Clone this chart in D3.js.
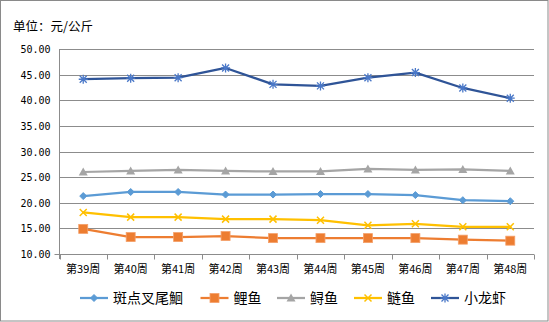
<!DOCTYPE html>
<html>
<head>
<meta charset="utf-8">
<script src="https://cdn.jsdelivr.net/npm/d3@7"></script>
<style>
  html, body { margin: 0; padding: 0; background: #fff; }
  svg { display: block; }
</style>
</head>
<body>
<svg id="chart" width="549" height="322"></svg>
<script>
// Weekly prices, yuan per kilogram
const weeks = ["第39周", "第40周", "第41周", "第42周", "第43周", "第44周", "第45周", "第46周", "第47周", "第48周"];
const channelCatfish = [21.3, 22.1, 22.1, 21.6, 21.6, 21.7, 21.7, 21.5, 20.5, 20.3];
const carp           = [14.9, 13.3, 13.3, 13.5, 13.1, 13.1, 13.1, 13.1, 12.8, 12.6];
const sturgeon       = [26.0, 26.2, 26.4, 26.2, 26.1, 26.1, 26.6, 26.4, 26.5, 26.2];
const silverCarp     = [18.1, 17.2, 17.2, 16.8, 16.8, 16.6, 15.6, 15.9, 15.3, 15.3];
const crayfish       = [44.1, 44.3, 44.4, 46.3, 43.1, 42.8, 44.4, 45.4, 42.4, 40.4];
const yTicks = [10, 15, 20, 25, 30, 35, 40, 45, 50];
const unitLabel = "单位：元/公斤";

const series = [
  { name: "斑点叉尾鮰", values: channelCatfish, color: "#5B9BD5", marker: "diamond" },
  { name: "鲤鱼", values: carp, color: "#ED7D31", marker: "square" },
  { name: "鲟鱼", values: sturgeon, color: "#A5A5A5", marker: "triangle" },
  { name: "鲢鱼", values: silverCarp, color: "#FFC000", marker: "x" },
  { name: "小龙虾", values: crayfish, color: "#2F5497", markerColor: "#4A78C8", marker: "star" }
];

const svg = d3.select("#chart");
const W = 549, H = 322;
const plot = { left: 59.5, right: 534, top: 49, bottom: 254 };
const cjk = "'Noto Sans CJK SC', 'Noto Sans', sans-serif";

// Outer frame
svg.append("rect")
  .attr("x", 0.5).attr("y", 0.5)
  .attr("width", W - 1.5).attr("height", H - 1.5)
  .attr("fill", "#fff").attr("stroke", "#8a8a8a").attr("stroke-width", 1);

const x = d3.scaleBand().domain(weeks).range([plot.left, plot.right]);
const y = d3.scaleLinear().domain([10, 50]).range([plot.bottom, plot.top]);
const cx = d => x(d) + x.bandwidth() / 2;

// Horizontal gridlines
svg.append("g").selectAll("line")
  .data(yTicks.filter(t => t > 10))
  .join("line")
  .attr("x1", plot.left).attr("x2", plot.right)
  .attr("y1", d => Math.round(y(d)) + 0.5).attr("y2", d => Math.round(y(d)) + 0.5)
  .attr("stroke", "#8c8c8c").attr("stroke-width", 1);

// Y axis
const yAxis = svg.append("g")
  .attr("transform", `translate(${plot.left},0)`)
  .call(d3.axisLeft(y).tickValues(yTicks).tickFormat(d3.format(".2f")).tickSize(0).tickPadding(9));
yAxis.select(".domain").attr("stroke", "#8c8c8c").attr("d", `M0,${plot.top}V${plot.bottom + 5}`);
yAxis.selectAll("text")
  .attr("font-family", "'DejaVu Sans Mono', monospace")
  .attr("font-size", "10px").attr("fill", "#000")
  .attr("dy", "0.36em");

// X axis line and category tick marks
const xg = svg.append("g").attr("transform", `translate(0,${Math.round(y(10)) + 0.5})`);
xg.append("line").attr("x1", plot.left - 5).attr("x2", plot.right)
  .attr("stroke", "#8c8c8c");
const boundaries = weeks.map(w => x(w)).concat([plot.right]);
xg.selectAll("line.tick").data(boundaries).join("line")
  .attr("class", "tick")
  .attr("x1", d => Math.round(d) + 0.5).attr("x2", d => Math.round(d) + 0.5)
  .attr("y1", 0).attr("y2", 5).attr("stroke", "#8c8c8c");
xg.selectAll("text").data(weeks).join("text")
  .attr("x", d => cx(d)).attr("y", 18)
  .attr("text-anchor", "middle")
  .attr("font-family", cjk).attr("font-size", "11px").attr("fill", "#000")
  .text(d => d);

// Unit label
svg.append("text").attr("x", 13).attr("y", 31)
  .attr("font-family", cjk).attr("font-size", "12.5px").attr("fill", "#000")
  .text(unitLabel);

// Marker drawing
function drawMarker(g, type, color, size) {
  const s = size;
  if (type === "diamond") {
    g.append("path").attr("d", `M0,${-s}L${s},0L0,${s}L${-s},0Z`).attr("fill", color).attr("stroke", color);
  } else if (type === "square") {
    g.append("rect").attr("x", -s).attr("y", -s).attr("width", 2 * s).attr("height", 2 * s)
      .attr("fill", color).attr("stroke", "#F4A06A").attr("stroke-width", 0.8);
  } else if (type === "triangle") {
    g.append("path").attr("d", `M0,${-s - 1}L${s + 1},${s}L${-s - 1},${s}Z`).attr("fill", color);
  } else if (type === "x") {
    g.append("path").attr("d", `M${-s},${-s}L${s},${s}M${-s},${s}L${s},${-s}`)
      .attr("stroke", color).attr("stroke-width", 1.5).attr("fill", "none");
  } else if (type === "star") {
    g.append("path").attr("d", `M${-s},${-s}L${s},${s}M${-s},${s}L${s},${-s}M0,${-s - 1}V${s + 1}M${-s - 1},0H${s + 1}`)
      .attr("stroke", color).attr("stroke-width", 1.3).attr("fill", "none");
  }
}

const line = d3.line().x((d, i) => cx(weeks[i])).y(d => y(d));

series.forEach(s => {
  const g = svg.append("g");
  g.append("path").datum(s.values)
    .attr("d", line)
    .attr("fill", "none").attr("stroke", s.color).attr("stroke-width", 2.25)
    .attr("stroke-linejoin", "round").attr("stroke-linecap", "round");
  s.values.forEach((v, i) => {
    const m = g.append("g").attr("transform", `translate(${cx(weeks[i])},${y(v)})`);
    drawMarker(m, s.marker, s.markerColor || s.color, s.marker === "square" ? 4.5 : 3.5);
  });
});

// Legend
const legendX = [80, 200.5, 277, 354, 431];
const legendY = 298;
series.forEach((s, i) => {
  const g = svg.append("g").attr("transform", `translate(${legendX[i]},${legendY})`);
  g.append("line").attr("x1", 0).attr("x2", 28).attr("stroke", s.color).attr("stroke-width", 2.25);
  const m = g.append("g").attr("transform", "translate(14,0)");
  drawMarker(m, s.marker, s.markerColor || s.color, s.marker === "square" ? 4.5 : 3.5);
  g.append("text").attr("x", 33).attr("y", 0).attr("dy", "0.36em")
    .attr("font-family", cjk).attr("font-size", "14px").attr("fill", "#000")
    .text(s.name);
});
</script>
</body>
</html>
